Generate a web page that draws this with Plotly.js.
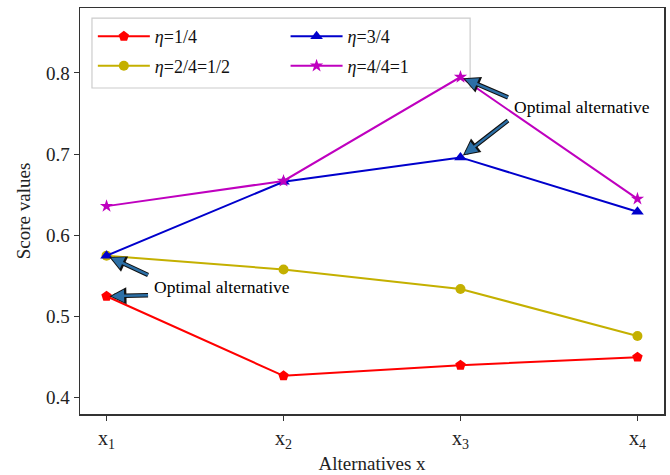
<!DOCTYPE html>
<html>
<head>
<meta charset="utf-8">
<script src="https://cdn.plot.ly/plotly-3.0.1.min.js"></script>
<style>
  html, body { margin: 0; padding: 0; background: #fff; }
  #chart { width: 670px; height: 475px; }
</style>
</head>
<body>
<div id="chart"></div>
<script>
// Alternatives on the x axis
const alternatives = [1, 2, 3, 4];
const altLabels = ['x<sub>1</sub>', 'x<sub>2</sub>', 'x<sub>3</sub>', 'x<sub>4</sub>'];

// Score values for each eta level
const eta1 = [0.525, 0.427, 0.440, 0.450];   // η = 1/4
const eta2 = [0.575, 0.558, 0.534, 0.476];   // η = 2/4 = 1/2
const eta3 = [0.575, 0.666, 0.696, 0.629];   // η = 3/4
const eta4 = [0.636, 0.667, 0.795, 0.645];   // η = 4/4 = 1

const serif = 'Liberation Serif, Times New Roman, serif';

function series(y, name, color, symbol, size, legendRef, group) {
  return {
    x: alternatives, y: y, name: name, type: 'scatter', mode: 'lines+markers',
    line: { color: color, width: 2 },
    marker: { color: color, symbol: symbol, size: size },
    legend: legendRef, legendgroup: group
  };
}

// two legend columns: the first two levels on the left, the last two on the right
const traces = [
  series(eta1, '<i>η</i>=1/4', '#ff0000', 'pentagon', 11, 'legend', 'a'),
  series(eta2, '<i>η</i>=2/4=1/2', '#c4b000', 'circle', 10, 'legend', 'b'),
  series(eta3, '<i>η</i>=3/4', '#0000cc', 'triangle-up', 11, 'legend2', 'c'),
  series(eta4, '<i>η</i>=4/4=1', '#bf00bf', 'star', 10, 'legend2', 'd')
];

// arrow pointing at a data point, drawn twice for a dark outline
function arrow(xv, yv, ax, ay) {
  return [
    { x: xv, y: yv, xref: 'x', yref: 'y', ax: ax, ay: ay, showarrow: true,
      arrowhead: 2, arrowsize: 0.75, arrowwidth: 4.5, arrowcolor: '#111', standoff: 3, text: '' },
    { x: xv, y: yv, xref: 'x', yref: 'y', ax: ax, ay: ay, showarrow: true,
      arrowhead: 2, arrowsize: 1.05, arrowwidth: 2.4, arrowcolor: '#2c6fa6', standoff: 5, text: '' }
  ];
}

const annotations = [].concat(
  arrow(alternatives[0], eta3[0], 43, 20),
  arrow(alternatives[0], eta1[0], 43, -1),
  arrow(alternatives[2], eta4[2], 49, 21),
  arrow(alternatives[2], eta3[2], 49, -38),
  [
    { xref: 'paper', yref: 'paper', x: 0.123, y: 0.313, xanchor: 'left', yanchor: 'middle',
      showarrow: false, text: 'Optimal alternative', font: { family: serif, size: 17.5, color: '#000' } },
    { xref: 'paper', yref: 'paper', x: 0.739, y: 0.756, xanchor: 'left', yanchor: 'middle',
      showarrow: false, text: 'Optimal alternative', font: { family: serif, size: 17.5, color: '#000' } }
  ]
);

const legendStyle = {
  yanchor: 'top', xanchor: 'left', y: 0.975,
  bgcolor: 'rgba(0,0,0,0)', borderwidth: 0, tracegroupgap: 3, itemwidth: 52,
  font: { family: serif, size: 18, color: '#111' }
};

const layout = {
  width: 670, height: 475,
  margin: { l: 80, r: 6, t: 8, b: 61 },
  paper_bgcolor: '#fff', plot_bgcolor: '#fff',
  font: { family: serif, size: 18, color: '#222' },
  showlegend: true,
  legend: Object.assign({ x: 0.022 }, legendStyle),
  legend2: Object.assign({ x: 0.352 }, legendStyle),
  // frame around both legend columns
  shapes: [{
    type: 'rect', xref: 'paper', yref: 'paper', layer: 'below',
    x0: 0.0205, x1: 0.668, y0: 0.803, y1: 0.975,
    line: { color: '#cccccc', width: 1.2 }, fillcolor: 'rgba(255,255,255,0.9)'
  }],
  xaxis: {
    range: [0.85, 4.15], tickvals: alternatives, ticktext: altLabels,
    ticks: 'outside', ticklen: 5, tickcolor: '#333', showgrid: false, zeroline: false,
    showline: true, linecolor: '#333', linewidth: 1.5, mirror: true,
    tickfont: { family: serif, size: 20, color: '#222' },
    title: { text: 'Alternatives x', font: { family: serif, size: 19, color: '#222' }, standoff: 6 }
  },
  yaxis: {
    range: [0.38, 0.88], tickvals: [0.4, 0.5, 0.6, 0.7, 0.8], ticktext: ['0.4', '0.5', '0.6', '0.7', '0.8'],
    ticks: 'outside', ticklen: 5, tickcolor: '#333', showgrid: false, zeroline: false,
    showline: true, linecolor: '#333', linewidth: 1.5, mirror: true,
    tickfont: { family: serif, size: 19, color: '#222' },
    title: { text: 'Score values', font: { family: serif, size: 19, color: '#222' }, standoff: 10 }
  },
  annotations: annotations
};

Plotly.newPlot('chart', traces, layout, { displayModeBar: false, staticPlot: true });
</script>
</body>
</html>
